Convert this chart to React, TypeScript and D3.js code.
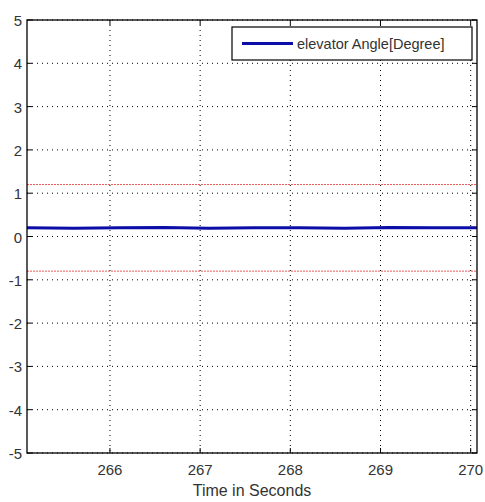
import React from "react";
import * as d3 from "d3";

const xTicks = [266, 267, 268, 269, 270];
const yTicks = [-5, -4, -3, -2, -1, 0, 1, 2, 3, 4, 5];
const timeSeconds = [265.08, 265.6, 266.1, 266.6, 267.1, 267.6, 268.1, 268.6, 269.1, 269.6, 270.07];
const elevatorAngle = [0.2, 0.19, 0.2, 0.21, 0.19, 0.2, 0.2, 0.19, 0.21, 0.2, 0.2];
const upperLimit = [1.2, 1.2];
const lowerLimit = [-0.8, -0.8];
const limitTimes = [265.08, 270.07];
const legendLabel = "elevator Angle[Degree]";
const xLabel = "Time in Seconds";

export default function App() {
  const W = 485, H = 502;
  const left = 27, right = 477, top = 20, bottom = 453;
  const x = d3.scaleLinear().domain([265.08, 270.07]).range([left, right]);
  const y = d3.scaleLinear().domain([-5, 5]).range([bottom, top]);
  const line = d3.line<[number, number]>().x(d => x(d[0])).y(d => y(d[1]));
  const blue = line(timeSeconds.map((t, i) => [t, elevatorAngle[i]]));
  const up = line(limitTimes.map((t, i) => [t, upperLimit[i]]));
  const lo = line(limitTimes.map((t, i) => [t, lowerLimit[i]]));
  const font = "Arial, 'Liberation Sans', sans-serif";
  const tl = 5;
  const txtFill = "#333";
  return (
    <svg width={W} height={H} style={{ position: "absolute", left: 0, top: 0, background: "#fff" }}>
      <rect x={0} y={0} width={W} height={H} fill="#fff" />
      {xTicks.map(t => (
        <line key={"gx" + t} x1={x(t)} x2={x(t)} y1={top} y2={bottom} stroke="#000" strokeWidth={1} strokeDasharray="1,4" />
      ))}
      {yTicks.map(t => (
        <line key={"gy" + t} x1={left} x2={right} y1={y(t)} y2={y(t)} stroke="#000" strokeWidth={1} strokeDasharray="1,4" />
      ))}
      <path d={up || ""} stroke="#e03030" strokeWidth={1} fill="none" strokeDasharray="2,1" opacity={0.8} />
      <path d={lo || ""} stroke="#e03030" strokeWidth={1} fill="none" strokeDasharray="2,1" opacity={0.8} />
      <path d={blue || ""} stroke="#0c0ca8" strokeWidth={3} fill="none" />
      {xTicks.map(t => (
        <g key={"tx" + t}>
          <line x1={x(t)} x2={x(t)} y1={bottom} y2={bottom - tl} stroke="#000" />
          <line x1={x(t)} x2={x(t)} y1={top} y2={top + tl} stroke="#000" />
          <text x={x(t)} y={bottom + 22} textAnchor="middle" fontFamily={font} fontSize={15} fill={txtFill}>{t}</text>
        </g>
      ))}
      {yTicks.map(t => (
        <g key={"ty" + t}>
          <line x1={left} x2={left + tl} y1={y(t)} y2={y(t)} stroke="#000" />
          <line x1={right} x2={right - tl} y1={y(t)} y2={y(t)} stroke="#000" />
          <text x={22} y={y(t) + 6} textAnchor="end" fontFamily={font} fontSize={15} fill={txtFill}>{t}</text>
        </g>
      ))}
      <rect x={left} y={top} width={right - left} height={bottom - top} fill="none" stroke="#000" strokeWidth={1.3} />
      <rect x={232} y={27} width={240} height={33} fill="#fff" stroke="#000" strokeWidth={1.2} />
      <line x1={242} x2={293} y1={43.5} y2={43.5} stroke="#0c0ca8" strokeWidth={3} />
      <text x={297} y={49} fontFamily={font} fontSize={14.5} fill={txtFill}>{legendLabel}</text>
      <text x={(left + right) / 2} y={496} textAnchor="middle" fontFamily={font} fontSize={16} fill={txtFill}>{xLabel}</text>
    </svg>
  );
}
